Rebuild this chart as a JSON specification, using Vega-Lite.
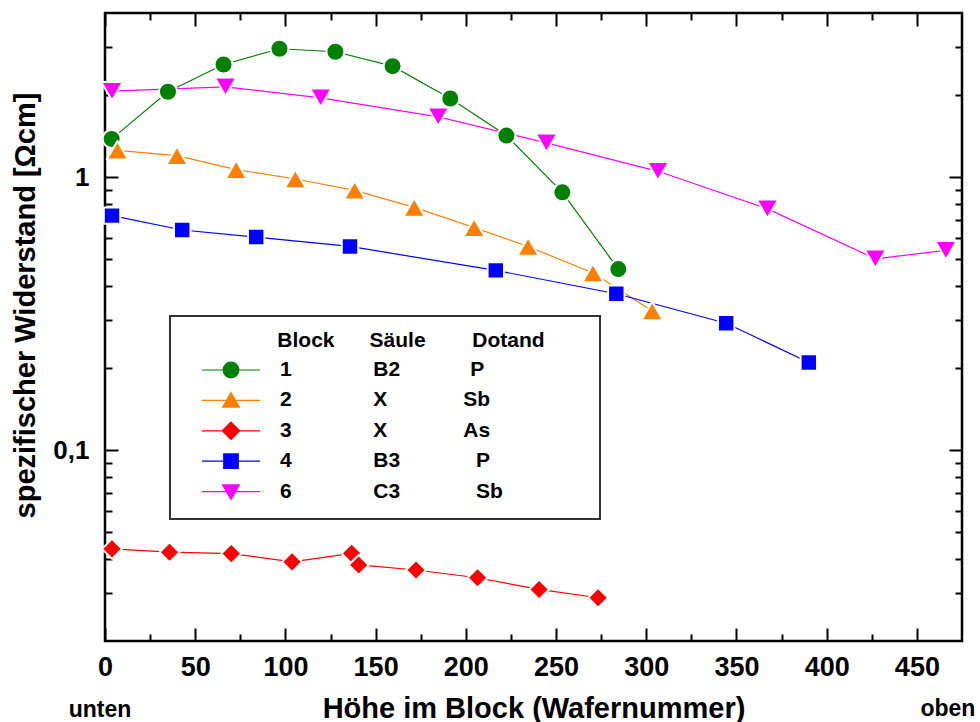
{
  "$schema": "https://vega.github.io/schema/vega-lite/v6.json",
  "width": 857,
  "height": 628,
  "autosize": {"type": "none"},
  "padding": {"left": 105, "top": 13, "right": 18, "bottom": 81},
  "background": "white",
  "data": {
    "values": [
      {"block": "1", "x": 3.7, "y": 1.383},
      {"block": "1", "x": 34.9, "y": 2.058},
      {"block": "1", "x": 65.7, "y": 2.591},
      {"block": "1", "x": 96.7, "y": 2.958},
      {"block": "1", "x": 127.7, "y": 2.884},
      {"block": "1", "x": 159.4, "y": 2.554},
      {"block": "1", "x": 191.4, "y": 1.944},
      {"block": "1", "x": 222.5, "y": 1.422},
      {"block": "1", "x": 253.5, "y": 0.881},
      {"block": "1", "x": 284.5, "y": 0.461},
      {"block": "2", "x": 6.9, "y": 1.256},
      {"block": "2", "x": 39.9, "y": 1.201},
      {"block": "2", "x": 72.7, "y": 1.067},
      {"block": "2", "x": 105.5, "y": 0.986},
      {"block": "2", "x": 138.4, "y": 0.896},
      {"block": "2", "x": 171.4, "y": 0.776},
      {"block": "2", "x": 204.6, "y": 0.654},
      {"block": "2", "x": 234.5, "y": 0.558},
      {"block": "2", "x": 270.5, "y": 0.446},
      {"block": "2", "x": 303.3, "y": 0.324},
      {"block": "3", "x": 3.9, "y": 0.0435},
      {"block": "3", "x": 35.8, "y": 0.0423},
      {"block": "3", "x": 70.0, "y": 0.0418},
      {"block": "3", "x": 103.7, "y": 0.039},
      {"block": "3", "x": 136.7, "y": 0.0419},
      {"block": "3", "x": 140.6, "y": 0.038},
      {"block": "3", "x": 172.4, "y": 0.0364},
      {"block": "3", "x": 206.5, "y": 0.0341},
      {"block": "3", "x": 240.6, "y": 0.0309},
      {"block": "3", "x": 273.3, "y": 0.0288},
      {"block": "4", "x": 3.9, "y": 0.724},
      {"block": "4", "x": 42.8, "y": 0.641},
      {"block": "4", "x": 83.8, "y": 0.604},
      {"block": "4", "x": 135.8, "y": 0.558},
      {"block": "4", "x": 216.6, "y": 0.456},
      {"block": "4", "x": 283.4, "y": 0.3745},
      {"block": "4", "x": 344.3, "y": 0.292},
      {"block": "4", "x": 390.1, "y": 0.2096},
      {"block": "6", "x": 3.9, "y": 2.068},
      {"block": "6", "x": 66.8, "y": 2.146},
      {"block": "6", "x": 119.6, "y": 1.956},
      {"block": "6", "x": 184.7, "y": 1.666},
      {"block": "6", "x": 244.7, "y": 1.337},
      {"block": "6", "x": 306.5, "y": 1.052},
      {"block": "6", "x": 367.2, "y": 0.766},
      {"block": "6", "x": 427.0, "y": 0.503},
      {"block": "6", "x": 466.1, "y": 0.54}
    ]
  },
  "resolve": {"axis": {"x": "independent", "y": "independent"}},
  "layer": [
    {
      "mark": {"type": "line", "strokeWidth": 1.2},
      "encoding": {
        "x": {
          "field": "x", "type": "quantitative",
          "scale": {"domain": [0, 475], "nice": false, "zero": false},
          "axis": {
            "orient": "bottom",
            "values": [0, 50, 100, 150, 200, 250, 300, 350, 400, 450],
            "tickSize": -13, "labelPadding": 26, "labelFlush": false,
            "labelFontSize": 27,
            "title": "Höhe im Block (Wafernummer)", "titleFontSize": 29, "titlePadding": 14
          }
        },
        "y": {
          "field": "y", "type": "quantitative",
          "scale": {"type": "log", "domain": [0.02, 4], "nice": false},
          "axis": {
            "orient": "left",
            "values": [0.1, 1],
            "labelExpr": "datum.value < 0.5 ? '0,1' : '1'",
            "tickSize": -13, "labelPadding": 29, "labelFontSize": 26,
            "title": "spezifischer Widerstand [Ωcm]", "titleFontSize": 29, "titlePadding": 12, "titleY": 292
          }
        },
        "color": {
          "field": "block", "type": "nominal",
          "scale": {"range": ["#008000", "#ff8000", "#ff0000", "#0000ff", "#ff00ff"]},
          "legend": null
        },
        "detail": {"field": "block"}
      }
    },
    {
      "transform": [{"filter": {"field": "block", "equal": "1"}}],
      "mark": {"type": "point", "shape": "circle", "size": 324, "filled": true, "opacity": 1, "stroke": "white", "strokeWidth": 2, "strokeJoin": "round"},
      "encoding": {
        "x": {
          "field": "x", "type": "quantitative",
          "axis": {"orient": "bottom", "values": [25, 75, 125, 175, 225, 275, 325, 375, 425], "tickSize": -7, "labels": false, "title": null}
        },
        "y": {
          "field": "y", "type": "quantitative",
          "axis": {"orient": "left", "values": [0.03, 0.04, 0.05, 0.06, 0.07, 0.08, 0.09, 0.2, 0.3, 0.4, 0.5, 0.6, 0.7, 0.8, 0.9, 2, 3], "tickSize": -7, "labels": false, "title": null}
        },
        "color": {"field": "block", "type": "nominal", "legend": null}
      }
    },
    {
      "transform": [{"filter": {"field": "block", "equal": "2"}}],
      "mark": {"type": "point", "shape": "triangle-up", "size": 460, "filled": true, "opacity": 1, "stroke": "white", "strokeWidth": 2, "strokeJoin": "round"},
      "encoding": {
        "x": {"field": "x", "type": "quantitative", "axis": null},
        "y": {"field": "y", "type": "quantitative", "axis": null},
        "color": {"field": "block", "type": "nominal", "legend": null}
      }
    },
    {
      "transform": [{"filter": {"field": "block", "equal": "3"}}],
      "mark": {"type": "point", "shape": "diamond", "size": 400, "filled": true, "opacity": 1, "stroke": "white", "strokeWidth": 2, "strokeJoin": "round"},
      "encoding": {
        "x": {"field": "x", "type": "quantitative", "axis": null},
        "y": {"field": "y", "type": "quantitative", "axis": null},
        "color": {"field": "block", "type": "nominal", "legend": null}
      }
    },
    {
      "transform": [{"filter": {"field": "block", "equal": "4"}}],
      "mark": {"type": "point", "shape": "square", "size": 270, "filled": true, "opacity": 1, "stroke": "white", "strokeWidth": 2, "strokeJoin": "round"},
      "encoding": {
        "x": {"field": "x", "type": "quantitative", "axis": null},
        "y": {"field": "y", "type": "quantitative", "axis": null},
        "color": {"field": "block", "type": "nominal", "legend": null}
      }
    },
    {
      "transform": [{"filter": {"field": "block", "equal": "6"}}],
      "mark": {"type": "point", "shape": "triangle-down", "size": 460, "filled": true, "opacity": 1, "stroke": "white", "strokeWidth": 2, "strokeJoin": "round"},
      "encoding": {
        "x": {"field": "x", "type": "quantitative", "axis": null},
        "y": {"field": "y", "type": "quantitative", "axis": null},
        "color": {"field": "block", "type": "nominal", "legend": null}
      }
    },
    {
      "mark": {"type": "point", "opacity": 0, "filled": true},
      "encoding": {
        "x": {
          "field": "x", "type": "quantitative",
          "axis": {"orient": "top", "values": [0, 50, 100, 150, 200, 250, 300, 350, 400, 450], "tickSize": -13, "labels": false, "title": null}
        },
        "y": {
          "field": "y", "type": "quantitative",
          "axis": {"orient": "right", "values": [0.1, 1], "tickSize": -13, "labels": false, "title": null}
        },
        "fill": {
          "field": "block", "type": "nominal",
          "scale": {"domain": ["1", "2", "3", "4", "6"], "range": ["#008000", "#ff8000", "#ff0000", "#0000ff", "#ff00ff"]},
          "legend": {
            "orient": "none", "legendX": 65, "legendY": 303,
            "title": "\u200b\u00a0\u00a0\u00a0\u00a0\u00a0\u00a0\u00a0\u00a0\u00a0\u00a0\u00a0\u00a0\u00a0\u00a0\u00a0\u00a0Block\u00a0\u00a0\u00a0\u00a0\u00a0\u00a0Säule\u00a0\u00a0\u00a0\u00a0\u00a0\u00a0\u00a0\u00a0Dotand\u00a0\u00a0\u00a0\u00a0\u00a0\u00a0\u00a0\u200b",
            "labelExpr": "datum.value == '1' ? '1\u00a0\u00a0\u00a0\u00a0\u00a0\u00a0\u00a0\u00a0\u00a0\u00a0\u00a0\u00a0\u00a0\u00a0B2\u00a0\u00a0\u00a0\u00a0\u00a0\u00a0\u00a0\u00a0\u00a0\u00a0\u00a0\u00a0P' : datum.value == '2' ? '2\u00a0\u00a0\u00a0\u00a0\u00a0\u00a0\u00a0\u00a0\u00a0\u00a0\u00a0\u00a0\u00a0\u00a0X\u00a0\u00a0\u00a0\u00a0\u00a0\u00a0\u00a0\u00a0\u00a0\u00a0\u00a0\u00a0\u00a0Sb' : datum.value == '3' ? '3\u00a0\u00a0\u00a0\u00a0\u00a0\u00a0\u00a0\u00a0\u00a0\u00a0\u00a0\u00a0\u00a0\u00a0X\u00a0\u00a0\u00a0\u00a0\u00a0\u00a0\u00a0\u00a0\u00a0\u00a0\u00a0\u00a0\u00a0As' : datum.value == '4' ? '4\u00a0\u00a0\u00a0\u00a0\u00a0\u00a0\u00a0\u00a0\u00a0\u00a0\u00a0\u00a0\u00a0\u00a0B3\u00a0\u00a0\u00a0\u00a0\u00a0\u00a0\u00a0\u00a0\u00a0\u00a0\u00a0\u00a0\u00a0P' : '6\u00a0\u00a0\u00a0\u00a0\u00a0\u00a0\u00a0\u00a0\u00a0\u00a0\u00a0\u00a0\u00a0\u00a0C3\u00a0\u00a0\u00a0\u00a0\u00a0\u00a0\u00a0\u00a0\u00a0\u00a0\u00a0\u00a0\u00a0Sb'"
          }
        },
        "stroke": {
          "field": "block", "type": "nominal",
          "scale": {"domain": ["1", "2", "3", "4", "6"], "range": ["#008000", "#ff8000", "#ff0000", "#0000ff", "#ff00ff"]},
          "legend": {
            "orient": "none", "legendX": 65, "legendY": 303,
            "title": "\u200b\u00a0\u00a0\u00a0\u00a0\u00a0\u00a0\u00a0\u00a0\u00a0\u00a0\u00a0\u00a0\u00a0\u00a0\u00a0\u00a0Block\u00a0\u00a0\u00a0\u00a0\u00a0\u00a0Säule\u00a0\u00a0\u00a0\u00a0\u00a0\u00a0\u00a0\u00a0Dotand\u00a0\u00a0\u00a0\u00a0\u00a0\u00a0\u00a0\u200b",
            "labelExpr": "datum.value == '1' ? '1\u00a0\u00a0\u00a0\u00a0\u00a0\u00a0\u00a0\u00a0\u00a0\u00a0\u00a0\u00a0\u00a0\u00a0B2\u00a0\u00a0\u00a0\u00a0\u00a0\u00a0\u00a0\u00a0\u00a0\u00a0\u00a0\u00a0P' : datum.value == '2' ? '2\u00a0\u00a0\u00a0\u00a0\u00a0\u00a0\u00a0\u00a0\u00a0\u00a0\u00a0\u00a0\u00a0\u00a0X\u00a0\u00a0\u00a0\u00a0\u00a0\u00a0\u00a0\u00a0\u00a0\u00a0\u00a0\u00a0\u00a0Sb' : datum.value == '3' ? '3\u00a0\u00a0\u00a0\u00a0\u00a0\u00a0\u00a0\u00a0\u00a0\u00a0\u00a0\u00a0\u00a0\u00a0X\u00a0\u00a0\u00a0\u00a0\u00a0\u00a0\u00a0\u00a0\u00a0\u00a0\u00a0\u00a0\u00a0As' : datum.value == '4' ? '4\u00a0\u00a0\u00a0\u00a0\u00a0\u00a0\u00a0\u00a0\u00a0\u00a0\u00a0\u00a0\u00a0\u00a0B3\u00a0\u00a0\u00a0\u00a0\u00a0\u00a0\u00a0\u00a0\u00a0\u00a0\u00a0\u00a0\u00a0P' : '6\u00a0\u00a0\u00a0\u00a0\u00a0\u00a0\u00a0\u00a0\u00a0\u00a0\u00a0\u00a0\u00a0\u00a0C3\u00a0\u00a0\u00a0\u00a0\u00a0\u00a0\u00a0\u00a0\u00a0\u00a0\u00a0\u00a0\u00a0Sb'"
          }
        },
        "shape": {
          "field": "block", "type": "nominal",
          "scale": {"domain": ["1", "2", "3", "4", "6"], "range": [
            "M-1,0H1M0.27,0A0.27,0.27,0,1,1,-0.27,0A0.27,0.27,0,1,1,0.27,0Z",
            "M-1,0H1M0,-0.27L0.29,0.23L-0.29,0.23Z",
            "M-1,0H1M0,-0.3L0.3,0L0,0.3L-0.3,0Z",
            "M-1,0H1M-0.25,-0.25H0.25V0.25H-0.25Z",
            "M-1,0H1M-0.29,-0.23L0.29,-0.23L0,0.27Z"
          ]},
          "legend": {
            "orient": "none", "legendX": 65, "legendY": 303,
            "title": "\u200b\u00a0\u00a0\u00a0\u00a0\u00a0\u00a0\u00a0\u00a0\u00a0\u00a0\u00a0\u00a0\u00a0\u00a0\u00a0\u00a0Block\u00a0\u00a0\u00a0\u00a0\u00a0\u00a0Säule\u00a0\u00a0\u00a0\u00a0\u00a0\u00a0\u00a0\u00a0Dotand\u00a0\u00a0\u00a0\u00a0\u00a0\u00a0\u00a0\u200b",
            "labelExpr": "datum.value == '1' ? '1\u00a0\u00a0\u00a0\u00a0\u00a0\u00a0\u00a0\u00a0\u00a0\u00a0\u00a0\u00a0\u00a0\u00a0B2\u00a0\u00a0\u00a0\u00a0\u00a0\u00a0\u00a0\u00a0\u00a0\u00a0\u00a0\u00a0P' : datum.value == '2' ? '2\u00a0\u00a0\u00a0\u00a0\u00a0\u00a0\u00a0\u00a0\u00a0\u00a0\u00a0\u00a0\u00a0\u00a0X\u00a0\u00a0\u00a0\u00a0\u00a0\u00a0\u00a0\u00a0\u00a0\u00a0\u00a0\u00a0\u00a0Sb' : datum.value == '3' ? '3\u00a0\u00a0\u00a0\u00a0\u00a0\u00a0\u00a0\u00a0\u00a0\u00a0\u00a0\u00a0\u00a0\u00a0X\u00a0\u00a0\u00a0\u00a0\u00a0\u00a0\u00a0\u00a0\u00a0\u00a0\u00a0\u00a0\u00a0As' : datum.value == '4' ? '4\u00a0\u00a0\u00a0\u00a0\u00a0\u00a0\u00a0\u00a0\u00a0\u00a0\u00a0\u00a0\u00a0\u00a0B3\u00a0\u00a0\u00a0\u00a0\u00a0\u00a0\u00a0\u00a0\u00a0\u00a0\u00a0\u00a0\u00a0P' : '6\u00a0\u00a0\u00a0\u00a0\u00a0\u00a0\u00a0\u00a0\u00a0\u00a0\u00a0\u00a0\u00a0\u00a0C3\u00a0\u00a0\u00a0\u00a0\u00a0\u00a0\u00a0\u00a0\u00a0\u00a0\u00a0\u00a0\u00a0Sb'"
          }
        }
      }
    },
    {
      "mark": {"type": "point", "opacity": 0},
      "encoding": {
        "x": {
          "field": "x", "type": "quantitative",
          "axis": {"orient": "top", "values": [25, 75, 125, 175, 225, 275, 325, 375, 425], "tickSize": -7, "labels": false, "title": null}
        },
        "y": {
          "field": "y", "type": "quantitative",
          "axis": {"orient": "right", "values": [0.03, 0.04, 0.05, 0.06, 0.07, 0.08, 0.09, 0.2, 0.3, 0.4, 0.5, 0.6, 0.7, 0.8, 0.9, 2, 3], "tickSize": -7, "labels": false, "title": null}
        }
      }
    },
    {
      "data": {"values": [{}]},
      "mark": {"type": "text", "font": "Liberation Sans", "fontWeight": "bold", "fontSize": 23, "align": "center", "baseline": "alphabetic", "color": "black"},
      "encoding": {
        "x": {"datum": -2.8, "type": "quantitative", "axis": null},
        "y": {"datum": 0.010532, "type": "quantitative", "axis": null},
        "text": {"value": "unten"}
      }
    },
    {
      "data": {"values": [{}]},
      "mark": {"type": "text", "font": "Liberation Sans", "fontWeight": "bold", "fontSize": 23, "align": "center", "baseline": "alphabetic", "color": "black"},
      "encoding": {
        "x": {"datum": 467.2, "type": "quantitative", "axis": null},
        "y": {"datum": 0.01062, "type": "quantitative", "axis": null},
        "text": {"value": "oben"}
      }
    }
  ],
  "config": {
    "font": "Liberation Sans",
    "view": {"stroke": "black", "strokeWidth": 2.5},
    "axis": {
      "grid": false, "domain": false, "ticks": true,
      "tickColor": "black", "tickWidth": 2,
      "labelFont": "Liberation Sans", "labelFontWeight": "bold", "labelColor": "black",
      "titleFont": "Liberation Sans", "titleFontWeight": "bold", "titleColor": "black"
    },
    "legend": {
      "padding": 14,
      "strokeColor": "#333333",
      "strokeWidth": 2,
      "fillColor": "white",
      "clipHeight": 26,
      "rowPadding": 4.4,
      "titlePadding": 6,
      "symbolSize": 3364,
      "symbolOffset": 17,
      "symbolOpacity": 1,
      "symbolStrokeWidth": 1.2,
      "labelOffset": 19,
      "labelFont": "Liberation Sans", "labelFontSize": 21, "labelFontWeight": "bold", "labelColor": "black", "labelLimit": 500,
      "titleFont": "Liberation Sans", "titleFontSize": 21, "titleFontWeight": "bold", "titleColor": "black", "titleLimit": 1000
    }
  }
}
